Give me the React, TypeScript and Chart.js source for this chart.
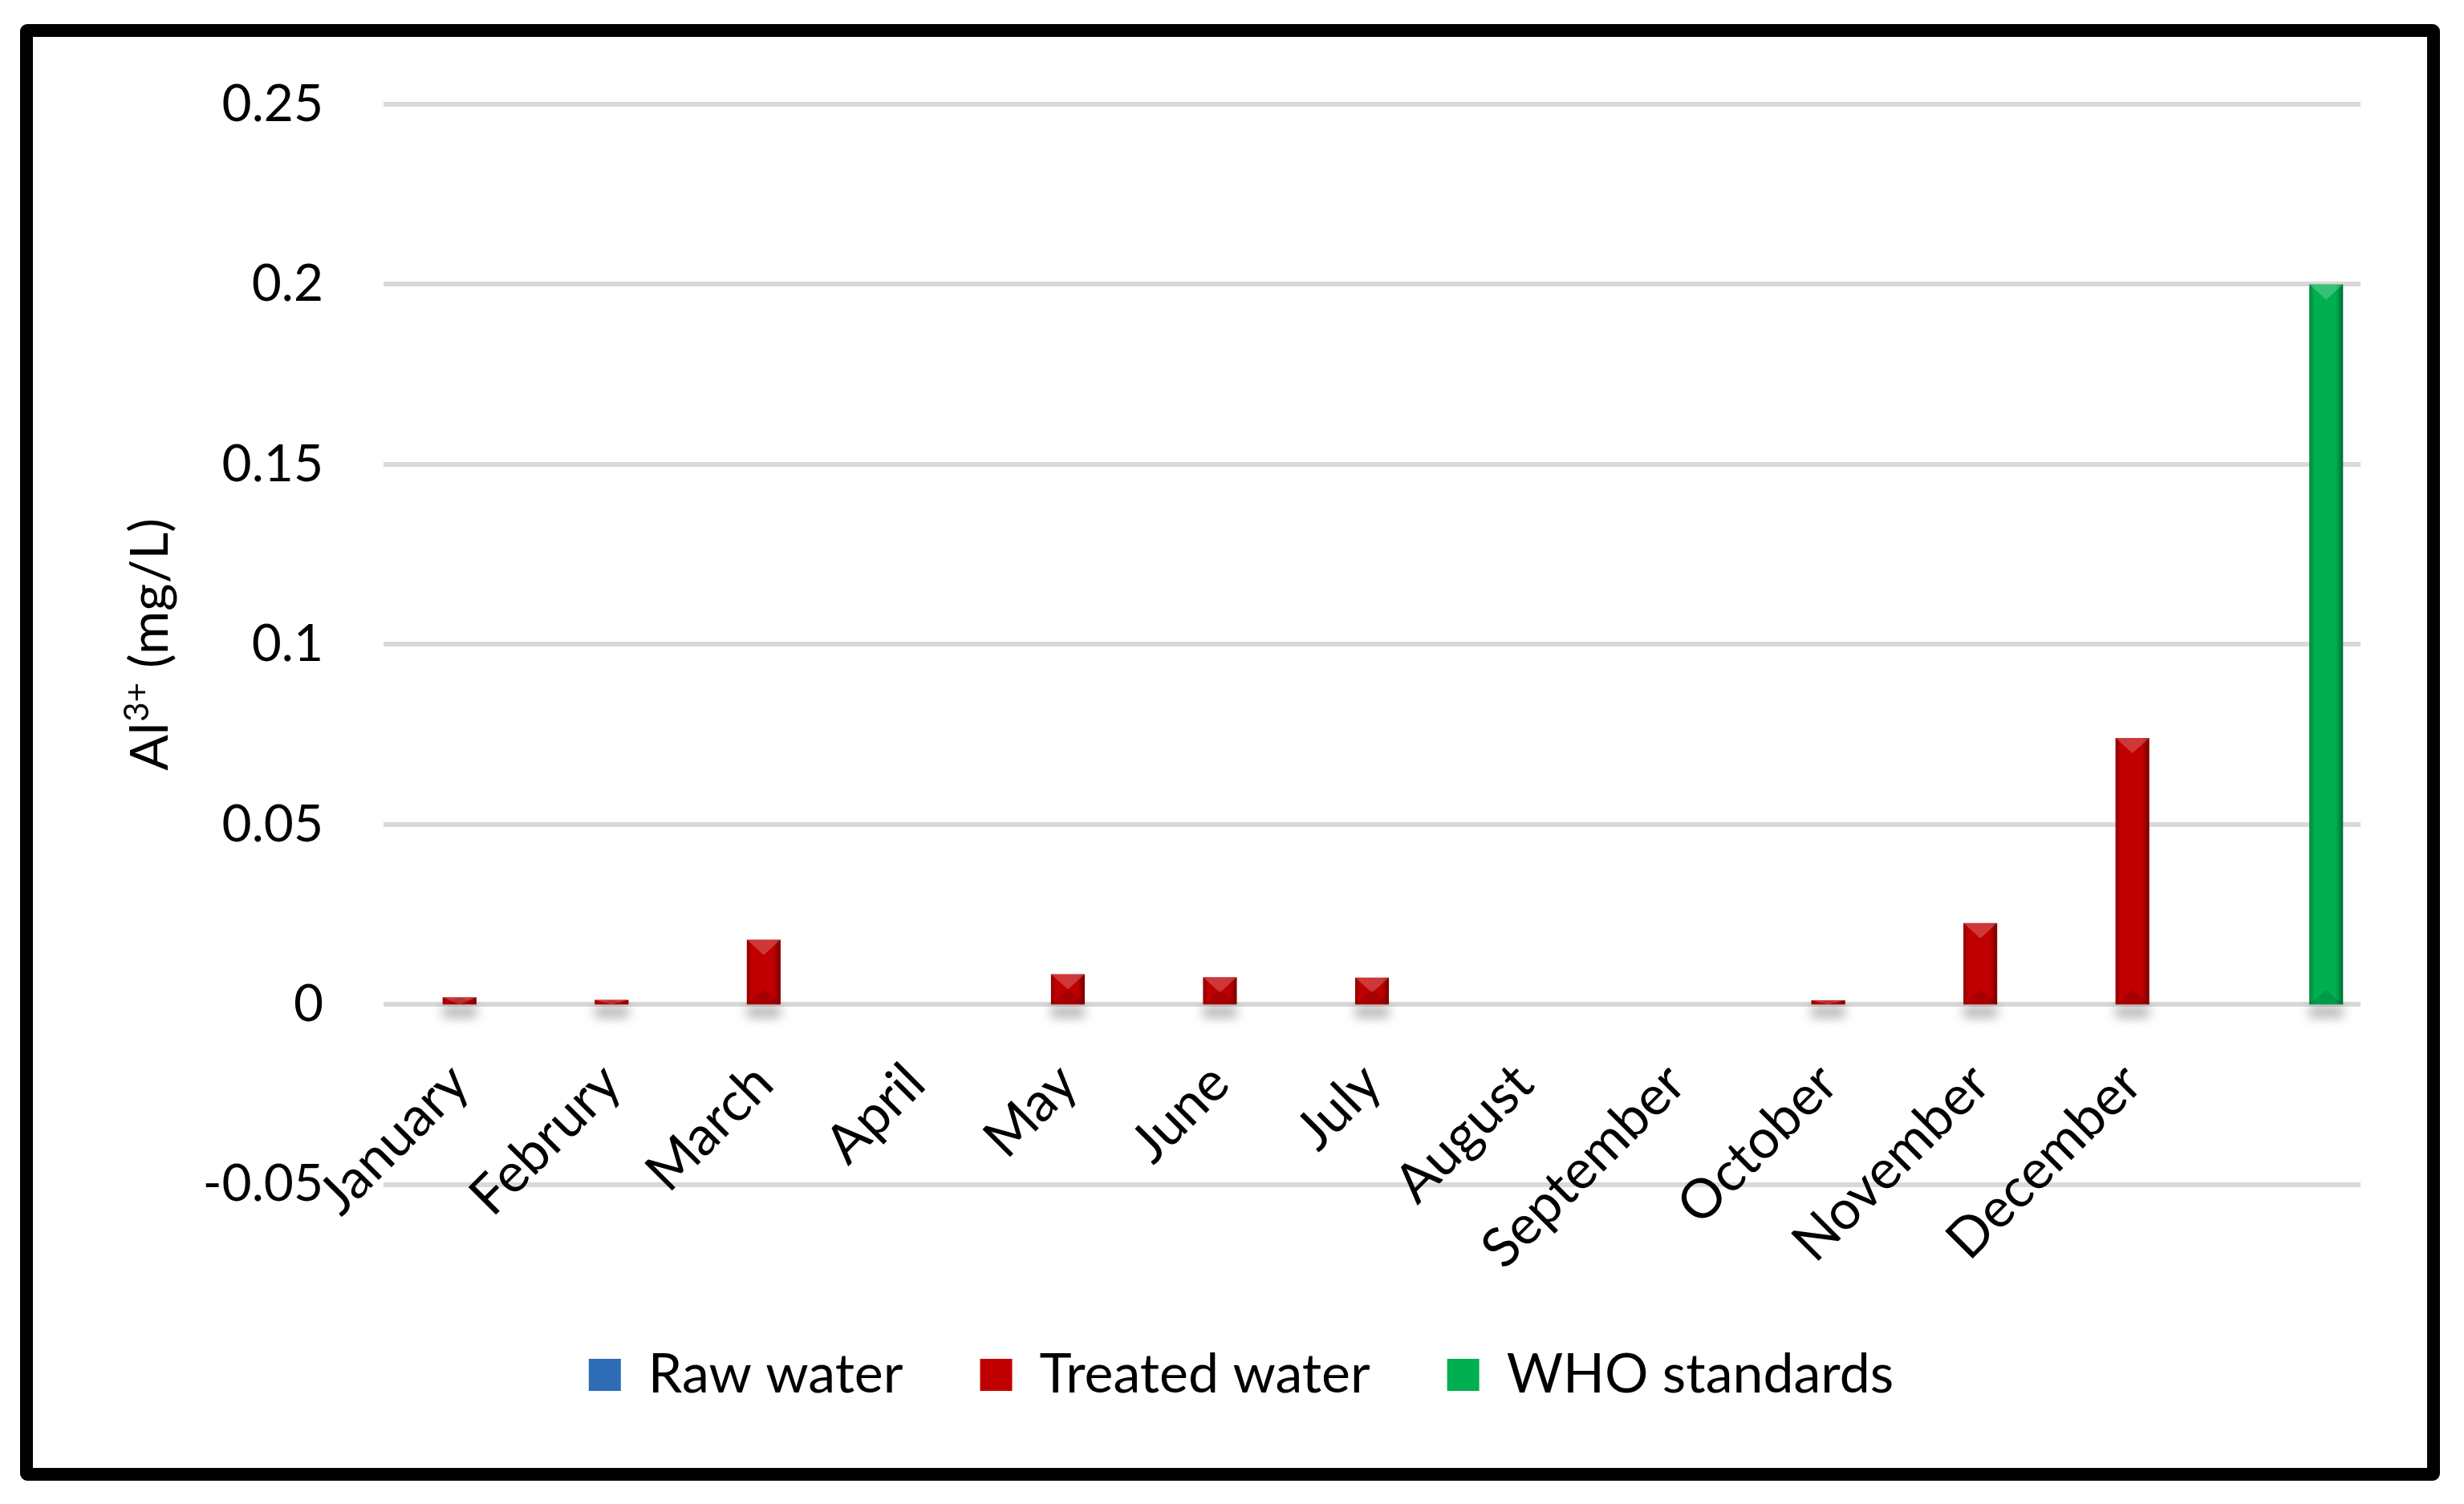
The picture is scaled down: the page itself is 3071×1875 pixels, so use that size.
import React, { useEffect, useRef } from 'react';
import { Chart, registerables } from 'chart.js';

Chart.register(...registerables);

// ---- data ----
const categories = ['January', 'Februry', 'March', 'April', 'May', 'June', 'July', 'August', 'September', 'October', 'November', 'December', ''];
const rawWater = [0, 0, 0, 0, 0, 0, 0, 0, 0, 0, 0, 0, null];
const treatedWater = [0.002, 0.0013, 0.018, 0, 0.0084, 0.0076, 0.0075, 0, 0, 0.0012, 0.0226, 0.074, null];
const whoStandards = [null, null, null, null, null, null, null, null, null, null, null, null, 0.2];
const yMin = -0.05;
const yMax = 0.25;
const yStep = 0.05;
const seriesNames = ['Raw water', 'Treated water', 'WHO standards'];
const seriesColors = ['#2E6CB5', '#C00000', '#00B050'];
const yTitleMain = 'Al';
const yTitleSup = '3+';
const yTitleRest = ' (mg/L)';

const FONT = 'Lato';

const barShadePlugin = {
  id: 'barShade',
  beforeDatasetsDraw(chart: any) {
    const ctx = chart.ctx;
    chart.data.datasets.forEach((_ds: any, di: number) => {
      const meta = chart.getDatasetMeta(di);
      if (meta.hidden) return;
      meta.data.forEach((bar: any) => {
        const { x, y, base, width } = bar.getProps(['x', 'y', 'base', 'width'], true);
        if (!isFinite(y) || !isFinite(base) || !isFinite(x)) return;
        const h = base - y;
        if (h <= 0.5) return;
        ctx.save();
        ctx.filter = 'blur(7px)';
        ctx.fillStyle = 'rgba(0,0,0,0.30)';
        ctx.fillRect(x - width / 2, base + 2, width, 14);
        ctx.restore();
      });
    });
  },
  afterDatasetsDraw(chart: any) {
    const ctx = chart.ctx;
    chart.data.datasets.forEach((_ds: any, di: number) => {
      const meta = chart.getDatasetMeta(di);
      if (meta.hidden) return;
      meta.data.forEach((bar: any) => {
        const { x, y, base, width } = bar.getProps(['x', 'y', 'base', 'width'], true);
        if (!isFinite(y) || !isFinite(base) || !isFinite(x)) return;
        const h = base - y;
        if (h <= 0.5) return;
        const left = x - width / 2;
        ctx.save();
        ctx.beginPath();
        ctx.rect(left, y, width, h);
        ctx.clip();
        const g = ctx.createLinearGradient(left, 0, left + width, 0);
        g.addColorStop(0, 'rgba(0,0,0,0.25)');
        g.addColorStop(0.16, 'rgba(0,0,0,0)');
        g.addColorStop(0.78, 'rgba(0,0,0,0)');
        g.addColorStop(1, 'rgba(0,0,0,0.38)');
        ctx.fillStyle = g;
        ctx.fillRect(left, y, width, h);
        const d = Math.min(width * 0.45, h);
        ctx.fillStyle = 'rgba(255,255,255,0.22)';
        ctx.beginPath();
        ctx.moveTo(left, y);
        ctx.lineTo(left + width, y);
        ctx.lineTo(x, y + d);
        ctx.closePath();
        ctx.fill();
        ctx.fillStyle = 'rgba(0,0,0,0.12)';
        ctx.beginPath();
        ctx.moveTo(left, base);
        ctx.lineTo(left + width, base);
        ctx.lineTo(x, base - d);
        ctx.closePath();
        ctx.fill();
        ctx.restore();
      });
    });
  },
};

const yTitlePlugin = {
  id: 'yTitleSup',
  afterDraw(chart: any) {
    const ctx = chart.ctx;
    const area = chart.chartArea;
    const cx = 147;
    const cy = (area.top + area.bottom) / 2;
    const big = `66px ${FONT}`;
    const small = `42px ${FONT}`;
    ctx.save();
    ctx.fillStyle = '#000';
    ctx.textBaseline = 'middle';
    ctx.textAlign = 'left';
    ctx.font = big;
    const w1 = ctx.measureText(yTitleMain).width;
    const w3 = ctx.measureText(yTitleRest).width;
    ctx.font = small;
    const w2 = ctx.measureText(yTitleSup).width;
    const total = w1 + w2 + w3 + 2;
    ctx.translate(cx, cy);
    ctx.rotate(-Math.PI / 2);
    let sx = -total / 2;
    ctx.font = big;
    ctx.fillText(yTitleMain, sx, 0);
    sx += w1 + 1;
    ctx.font = small;
    ctx.fillText(yTitleSup, sx, -17);
    sx += w2 + 1;
    ctx.font = big;
    ctx.fillText(yTitleRest, sx, 0);
    ctx.restore();
  },
};

export default function App() {
  const canvasRef = useRef<HTMLCanvasElement | null>(null);

  useEffect(() => {
    const canvas = canvasRef.current;
    if (!canvas) return;
    const chart = new Chart(canvas, {
      type: 'bar',
      data: {
        labels: categories,
        datasets: [
          { label: seriesNames[0], data: rawWater, backgroundColor: seriesColors[0], borderWidth: 0 },
          { label: seriesNames[1], data: treatedWater, backgroundColor: seriesColors[1], borderWidth: 0 },
          { label: seriesNames[2], data: whoStandards, backgroundColor: seriesColors[2], borderWidth: 0 },
        ],
      },
      options: {
        animation: false,
        responsive: false,
        devicePixelRatio: 1,
        datasets: {
          bar: { categoryPercentage: 0.823, barPercentage: 0.81 },
        },
        layout: { padding: { left: 111, right: 83, top: 84, bottom: 72 } },
        plugins: {
          tooltip: { enabled: false },
          title: { display: false },
          legend: {
            position: 'bottom',
            title: { display: true, text: ' ', font: { size: 1 }, padding: { top: 106, bottom: 0 } },
            labels: {
              font: { family: FONT, size: 68 },
              color: '#000',
              boxWidth: 40,
              boxHeight: 40,
              padding: 96,
            },
          },
        },
        scales: {
          x: {
            position: { y: 0 } as any,
            grid: { display: false, drawTicks: false },
            border: { display: false },
            ticks: {
              autoSkip: false,
              minRotation: 45,
              maxRotation: 45,
              padding: 58,
              labelOffset: 0,
              color: '#000',
              font: { family: FONT, size: 68 },
            },
          },
          y: {
            min: yMin,
            max: yMax,
            afterFit: (scale: any) => {
              scale.width = 326;
            },
            grid: { color: '#d9d9d9', lineWidth: 6, drawTicks: true, tickLength: 75, tickColor: 'rgba(0,0,0,0)' },
            border: { display: false },
            ticks: {
              stepSize: yStep,
              padding: 0,
              color: '#000',
              font: { family: FONT, size: 64 },
              callback: (v: any) => String(Number(Number(v).toFixed(4))),
            },
          },
        },
      },
      plugins: [barShadePlugin, yTitlePlugin],
    });
    return () => chart.destroy();
  }, []);

  return (
    <div
      style={{
        position: 'absolute',
        left: 25,
        top: 30,
        width: 3016,
        height: 1816,
        boxSizing: 'border-box',
        border: '16px solid #000',
        borderRadius: 9,
        background: '#fff',
      }}
    >
      <canvas ref={canvasRef} width={2984} height={1784} style={{ display: 'block', width: 2984, height: 1784 }} />
    </div>
  );
}
